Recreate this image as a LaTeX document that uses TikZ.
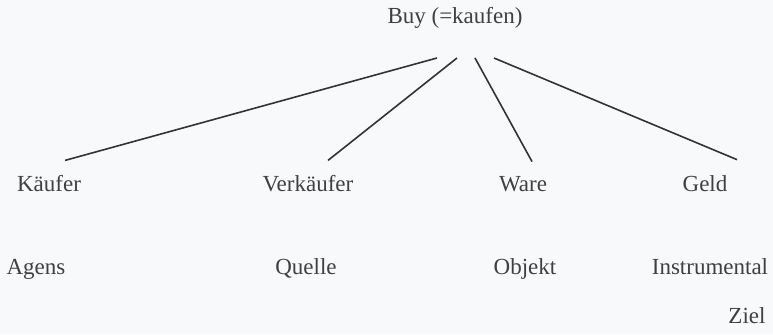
\documentclass[tikz,border=0pt]{standalone}
\usepackage{fontspec}
\setmainfont{Liberation Serif}
\definecolor{paper}{HTML}{F8F9FB}
\definecolor{ink}{HTML}{404040}
\definecolor{stroke}{HTML}{333333}
\begin{document}
\begin{tikzpicture}[x=0.5pt, y=-0.5pt,
                    every node/.style={inner sep=0pt, anchor=base, text=ink,
                                       font=\fontsize{11.5}{14}\selectfont},
                    branch/.style={draw=stroke, line width=0.8pt}]
      \fill[paper] (0,0) rectangle (773,334);
      \useasboundingbox (0,0) rectangle (773,334);
      \node (buy) at (455,23) {Buy (=kaufen)};
      \coordinate (t_kaeufer) at (437,58);
      \coordinate (t_verkaeufer) at (457,58);
      \coordinate (t_ware) at (475,58);
      \coordinate (t_geld) at (494,58);
      % Rollen
      \node (kaeufer) at (49,191) {Käufer};
      \node (verkaeufer) at (308,191) {Verkäufer};
      \node (ware) at (523,191) {Ware};
      \node (geld) at (705,191) {Geld};
      % Kasus
      \node (agens) at (36,274) {Agens};
      \node (quelle) at (306,274) {Quelle};
      \node (objekt) at (525,274) {Objekt};
      \node (instrumental) at (710,274) {Instrumental};
      \node (ziel) at (747,323) {Ziel};
      \draw[branch] (t_kaeufer) -- ([xshift=8pt, yshift=7pt]kaeufer.north);
      \draw[branch] (t_verkaeufer) -- ([xshift=10pt, yshift=7pt]verkaeufer.north);
      \draw[branch] (t_ware) -- ([xshift=4.5pt, yshift=7pt]ware.north);
      \draw[branch] (t_geld) -- ([xshift=16pt, yshift=7.5pt]geld.north);
    \end{tikzpicture}
\end{document}
